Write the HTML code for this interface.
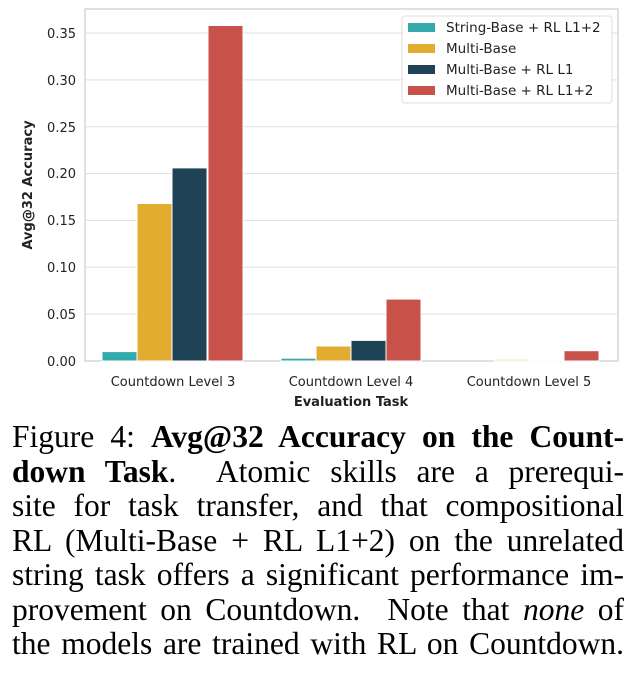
<!DOCTYPE html>
<html><head><style>
body{margin:0;width:634px;height:676px;background:#fff;overflow:hidden;position:relative}
.cap{position:absolute;left:12px;top:420px;width:612px;font-family:"Liberation Serif",serif;font-size:31.5px;color:#000}
.cap div{height:34.5px;line-height:34.5px;text-align:justify;text-align-last:justify;white-space:nowrap}
</style></head><body>
<svg width="634" height="420" style="position:absolute;left:0;top:0" font-family="DejaVu Sans, sans-serif">
<rect x="85" y="9" width="533" height="352" fill="#fff" stroke="#ccc" stroke-width="1.2"/>
<g stroke="#ddd" stroke-width="1">
<line x1="85" x2="618" y1="314.1" y2="314.1"/><line x1="85" x2="618" y1="267.3" y2="267.3"/>
<line x1="85" x2="618" y1="220.4" y2="220.4"/><line x1="85" x2="618" y1="173.6" y2="173.6"/>
<line x1="85" x2="618" y1="126.7" y2="126.7"/><line x1="85" x2="618" y1="79.9" y2="79.9"/>
<line x1="85" x2="618" y1="33" y2="33"/></g>
<g font-size="13" fill="#222" text-anchor="end">
<text x="76" y="366">0.00</text><text x="76" y="319">0.05</text><text x="76" y="272">0.10</text>
<text x="76" y="225">0.15</text><text x="76" y="178">0.20</text><text x="76" y="132">0.25</text>
<text x="76" y="85">0.30</text><text x="76" y="38">0.35</text></g>
<g stroke="#fff" stroke-width="1">
<rect x="102" y="351.6" width="35" height="9.4" fill="#34a9ab"/>
<rect x="137" y="203.5" width="35" height="157.5" fill="#e1ac30"/>
<rect x="172" y="167.9" width="35" height="193.1" fill="#1f4257"/>
<rect x="208" y="25.5" width="35" height="335.5" fill="#c8524a"/>
<rect x="281" y="358.2" width="35" height="2.8" fill="#34a9ab"/>
<rect x="316" y="346" width="35" height="15" fill="#e1ac30"/>
<rect x="351" y="340.4" width="35" height="20.6" fill="#1f4257"/>
<rect x="386" y="299.1" width="35" height="61.9" fill="#c8524a"/>
<rect x="494" y="359.1" width="35" height="1.9" fill="#f3e2c0"/>
<rect x="529" y="360" width="35" height="1" fill="#a8b4be"/>
<rect x="564" y="350.7" width="35" height="10.3" fill="#c8524a"/>
</g>
<g font-size="13" fill="#222" text-anchor="middle">
<text x="173" y="386">Countdown Level 3</text><text x="351" y="386">Countdown Level 4</text><text x="529" y="386">Countdown Level 5</text>
<text x="351" y="406" font-weight="bold">Evaluation Task</text></g>
<text transform="translate(32,185) rotate(-90)" text-anchor="middle" font-size="13" font-weight="bold" fill="#222">Avg@32 Accuracy</text>
<rect x="402" y="16" width="210" height="87" rx="3" fill="#fff" fill-opacity="0.9" stroke="#ddd"/>
<rect x="408" y="23" width="27" height="9" fill="#34a9ab"/>
<rect x="408" y="44" width="27" height="9" fill="#e1ac30"/>
<rect x="408" y="65" width="27" height="9" fill="#1f4257"/>
<rect x="408" y="86" width="27" height="9" fill="#c8524a"/>
<g font-size="13.5" fill="#222">
<text x="446" y="32">String-Base + RL L1+2</text><text x="446" y="53">Multi-Base</text>
<text x="446" y="74">Multi-Base + RL L1</text><text x="446" y="95">Multi-Base + RL L1+2</text></g>
</svg>
<div class="cap">
<div>Figure 4: <b>Avg@32 Accuracy on the Count-</b></div>
<div><b>down Task</b>. &nbsp;Atomic skills are a prerequi-</div>
<div>site for task transfer, and that compositional</div>
<div>RL (Multi-Base + RL L1+2) on the unrelated</div>
<div>string task offers a significant performance im-</div>
<div>provement on Countdown. &nbsp;Note that <i>none</i> of</div>
<div>the models are trained with RL on Countdown.</div>
</div>
</body></html>
